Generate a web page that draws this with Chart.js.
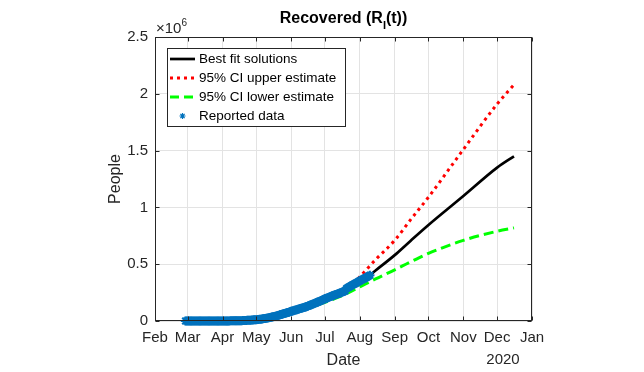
<!DOCTYPE html>
<html>
<head>
<meta charset="utf-8">
<script src="https://cdn.jsdelivr.net/npm/chart.js@4.4.1/dist/chart.umd.min.js"></script>
<style>
  body { margin: 0; background: #fff; }
  #chart { display: block; }
</style>
</head>
<body>
<canvas id="chart" width="644" height="372"></canvas>
<script>
// month ticks on the date axis
const monthLabels = ["Feb", "Mar", "Apr", "May", "Jun", "Jul", "Aug", "Sep", "Oct", "Nov", "Dec", "Jan"];
const monthStarts = ["2020-02-01", "2020-03-01", "2020-04-01", "2020-05-01", "2020-06-01", "2020-07-01",
                     "2020-08-01", "2020-09-01", "2020-10-01", "2020-11-01", "2020-12-01", "2021-01-01"];
const yearLabel = "2020";

// model curves (people, x10^6)
const fitDates = ["2020-02-28", "2020-04-01", "2020-05-01", "2020-06-01", "2020-07-01", "2020-07-20", "2020-08-01",
                  "2020-08-15", "2020-09-01", "2020-09-15", "2020-10-01", "2020-11-01", "2020-12-01", "2020-12-16"];
const bestFit = [0, 0.001, 0.012, 0.082, 0.19, 0.27, 0.335, 0.445, 0.58, 0.705, 0.845, 1.10, 1.35, 1.45];
const upperCI = [0, 0.001, 0.012, 0.082, 0.19, 0.28, 0.39, 0.54, 0.71, 0.89, 1.09, 1.51, 1.91, 2.08];
const lowerCI = [0, 0.001, 0.010, 0.070, 0.165, 0.24, 0.30, 0.37, 0.45, 0.52, 0.595, 0.71, 0.79, 0.82];

// reported data, one value per day from reportedStart (x10^6)
const reportedStart = "2020-02-28";
const reported = [
  0, 0,
  // Mar
  0, 0, 0, 0, 0, 0, 0, 0, 0, 0, 0, 0, 0, 0, 0, 0, 0, 0, 0, 0,
  0, 0, 0, 0, 0.0001, 0.0001, 0.0001, 0.0001, 0.0002, 0.0002, 0.0003,
  // Apr
  0.0004, 0.0005, 0.0006, 0.0007, 0.0008, 0.0009, 0.0010, 0.0012, 0.0014, 0.0016,
  0.0018, 0.0020, 0.0022, 0.0024, 0.0026, 0.0028, 0.0030, 0.0033, 0.0036, 0.0040,
  0.0045, 0.0050, 0.0056, 0.0062, 0.0069, 0.0076, 0.0084, 0.0092, 0.0101, 0.0110,
  // May
  0.012, 0.013, 0.014, 0.015, 0.016, 0.018, 0.019, 0.021, 0.022, 0.024,
  0.026, 0.028, 0.030, 0.032, 0.035, 0.037, 0.040, 0.042, 0.045, 0.048,
  0.051, 0.054, 0.057, 0.060, 0.063, 0.066, 0.069, 0.072, 0.075, 0.078, 0.081,
  // Jun
  0.085, 0.088, 0.091, 0.094, 0.097, 0.100, 0.103, 0.106, 0.109, 0.112,
  0.115, 0.118, 0.121, 0.124, 0.128, 0.132, 0.136, 0.140, 0.144, 0.148,
  0.152, 0.156, 0.160, 0.164, 0.168, 0.172, 0.176, 0.181, 0.186, 0.191,
  // Jul
  0.195, 0.199, 0.203, 0.207, 0.211, 0.215, 0.219, 0.223, 0.227, 0.231,
  0.234, 0.237, 0.241, 0.245, 0.249, 0.253, 0.257, 0.261, 0.265, 0.285,
  0.291, 0.297, 0.303, 0.309, 0.315, 0.320, 0.325, 0.330, 0.336, 0.342, 0.348,
  // Aug
  0.354, 0.359, 0.364, 0.369, 0.374, 0.379, 0.385, 0.391, 0.397, 0.403
];

const legendLabels = ["Best fit solutions", "95% CI upper estimate", "95% CI lower estimate", "Reported data"];

const ink = "#262626";
const face = '"Liberation Sans", Arial, Helvetica, sans-serif';
const blue = "#0072BD";

const toDay = s => (Date.parse(s) - Date.parse("2020-02-01")) / 86400000;
const monthTicks = monthStarts.map(toDay);
const fitDays = fitDates.map(toDay);
const startDay = toDay(reportedStart);

function star(ctx, x, y, r) {
  ctx.beginPath();
  for (let k = 0; k < 4; k++) {
    const a = k * Math.PI / 4;
    ctx.moveTo(x - r * Math.cos(a), y - r * Math.sin(a));
    ctx.lineTo(x + r * Math.cos(a), y + r * Math.sin(a));
  }
  ctx.stroke();
}

const decor = {
  id: "decor",
  afterDraw(chart) {
    const ctx = chart.ctx;
    const a = chart.chartArea;
    const xs = chart.scales.x, ys = chart.scales.y;
    const L = Math.round(a.left) + 0.5, R = Math.round(a.right) - 0.5;
    const T = Math.round(a.top) + 0.5, B = Math.round(a.bottom) - 0.5;
    ctx.save();

    // axes box + inward ticks
    ctx.strokeStyle = ink;
    ctx.lineWidth = 1;
    ctx.strokeRect(L, T, R - L, B - T);
    ctx.beginPath();
    monthTicks.forEach(v => {
      const px = Math.round(xs.getPixelForValue(v)) + 0.5;
      ctx.moveTo(px, B); ctx.lineTo(px, B - 4);
      ctx.moveTo(px, T); ctx.lineTo(px, T + 4);
    });
    ys.ticks.forEach(t => {
      const py = Math.round(ys.getPixelForValue(t.value)) + 0.5;
      ctx.moveTo(L, py); ctx.lineTo(L + 4, py);
      ctx.moveTo(R, py); ctx.lineTo(R - 4, py);
    });
    ctx.stroke();

    // title with subscript
    ctx.fillStyle = "#000";
    ctx.textBaseline = "alphabetic";
    ctx.textAlign = "left";
    const big = "bold 16px " + face, small = "bold 11px " + face;
    ctx.font = big;
    const w1 = ctx.measureText("Recovered (R").width;
    const w3 = ctx.measureText("(t))").width;
    ctx.font = small;
    const w2 = ctx.measureText("I").width;
    let tx = (a.left + a.right) / 2 - (w1 + w2 + w3) / 2;
    ctx.font = big;
    ctx.fillText("Recovered (R", tx, 23);
    ctx.font = small;
    ctx.fillText("I", tx + w1, 29);
    ctx.font = big;
    ctx.fillText("(t))", tx + w1 + w2, 23);

    // exponent label
    ctx.fillStyle = ink;
    ctx.font = "15px " + face;
    ctx.fillText("\u00d710", a.left + 1, 33);
    const we = ctx.measureText("\u00d710").width;
    ctx.font = "10px " + face;
    ctx.fillText("6", a.left + 1 + we, 26);

    // year under the date axis
    ctx.font = "15px " + face;
    ctx.textAlign = "center";
    ctx.fillText(yearLabel, 503, 364);

    // legend
    const lx = 167.5, ly = 48.5, lw = 178, lh = 78;
    ctx.fillStyle = "#fff";
    ctx.fillRect(lx, ly, lw, lh);
    ctx.strokeStyle = ink;
    ctx.lineWidth = 1;
    ctx.strokeRect(lx, ly, lw, lh);
    const rows = [59, 78, 97, 116];
    const styles = [
      { color: "#000", width: 2.7, dash: [] },
      { color: "#ff0000", width: 3, dash: [3, 4] },
      { color: "#00ff00", width: 3, dash: [9, 5] }
    ];
    styles.forEach((s, i) => {
      ctx.beginPath();
      ctx.strokeStyle = s.color;
      ctx.lineWidth = s.width;
      ctx.setLineDash(s.dash);
      ctx.moveTo(170, rows[i]);
      ctx.lineTo(195, rows[i]);
      ctx.stroke();
    });
    ctx.setLineDash([]);
    ctx.strokeStyle = blue;
    ctx.lineWidth = 1.2;
    star(ctx, 182.5, rows[3], 3);
    ctx.fillStyle = "#000";
    ctx.font = "13.5px " + face;
    ctx.textAlign = "left";
    ctx.textBaseline = "middle";
    legendLabels.forEach((t, i) => ctx.fillText(t, 199, rows[i] + 0.5));
    ctx.restore();
  }
};

const linePts = (vals) => fitDays.map((d, i) => ({ x: d, y: vals[i] }));

new Chart(document.getElementById("chart"), {
  type: "line",
  data: {
    datasets: [
      {
        label: legendLabels[3],
        data: reported.map((v, i) => ({ x: startDay + i, y: v })),
        showLine: false,
        pointStyle: "star",
        pointRadius: 4.5,
        pointBorderWidth: 2,
        borderColor: blue,
        backgroundColor: blue,
        clip: 8,
        order: 0
      },
      {
        label: legendLabels[0],
        data: linePts(bestFit),
        borderColor: "#000",
        borderWidth: 2.7,
        pointRadius: 0,
        cubicInterpolationMode: "monotone",
        order: 1
      },
      {
        label: legendLabels[1],
        data: linePts(upperCI),
        borderColor: "#ff0000",
        borderWidth: 3,
        borderDash: [3, 4],
        pointRadius: 0,
        cubicInterpolationMode: "monotone",
        order: 2
      },
      {
        label: legendLabels[2],
        data: linePts(lowerCI),
        borderColor: "#00ff00",
        borderWidth: 3,
        borderDash: [10, 5],
        pointRadius: 0,
        cubicInterpolationMode: "monotone",
        order: 3
      }
    ]
  },
  options: {
    responsive: false,
    animation: false,
    devicePixelRatio: 1,
    layout: { padding: { left: 0, top: 37, right: 112, bottom: 0 } },
    plugins: { legend: { display: false }, title: { display: false }, tooltip: { enabled: false } },
    scales: {
      x: {
        type: "linear",
        min: 0,
        max: 335,
        afterBuildTicks: s => { s.ticks = monthTicks.map(v => ({ value: v })); },
        afterFit: s => { s.height = 51; },
        grid: { color: "#e3e3e3", drawTicks: false },
        border: { display: false },
        ticks: {
          autoSkip: false, maxRotation: 0, padding: 8, color: ink,
          font: { family: face, size: 15 },
          callback: v => monthLabels[monthTicks.indexOf(v)]
        },
        title: { display: true, text: "Date", color: ink, font: { family: face, size: 16 }, padding: { top: 0, bottom: 2 } }
      },
      y: {
        min: 0,
        max: 2.5,
        afterFit: s => { s.width = 155; },
        grid: { color: "#e3e3e3", drawTicks: false },
        border: { display: false },
        ticks: {
          stepSize: 0.5, padding: 7, color: ink, font: { family: face, size: 15 },
          callback: v => String(Number(v.toFixed(1)))
        },
        title: { display: true, text: "People", color: ink, font: { family: face, size: 16 }, padding: { top: 106, bottom: 0 } }
      }
    }
  },
  plugins: [decor]
});
</script>
</body>
</html>
